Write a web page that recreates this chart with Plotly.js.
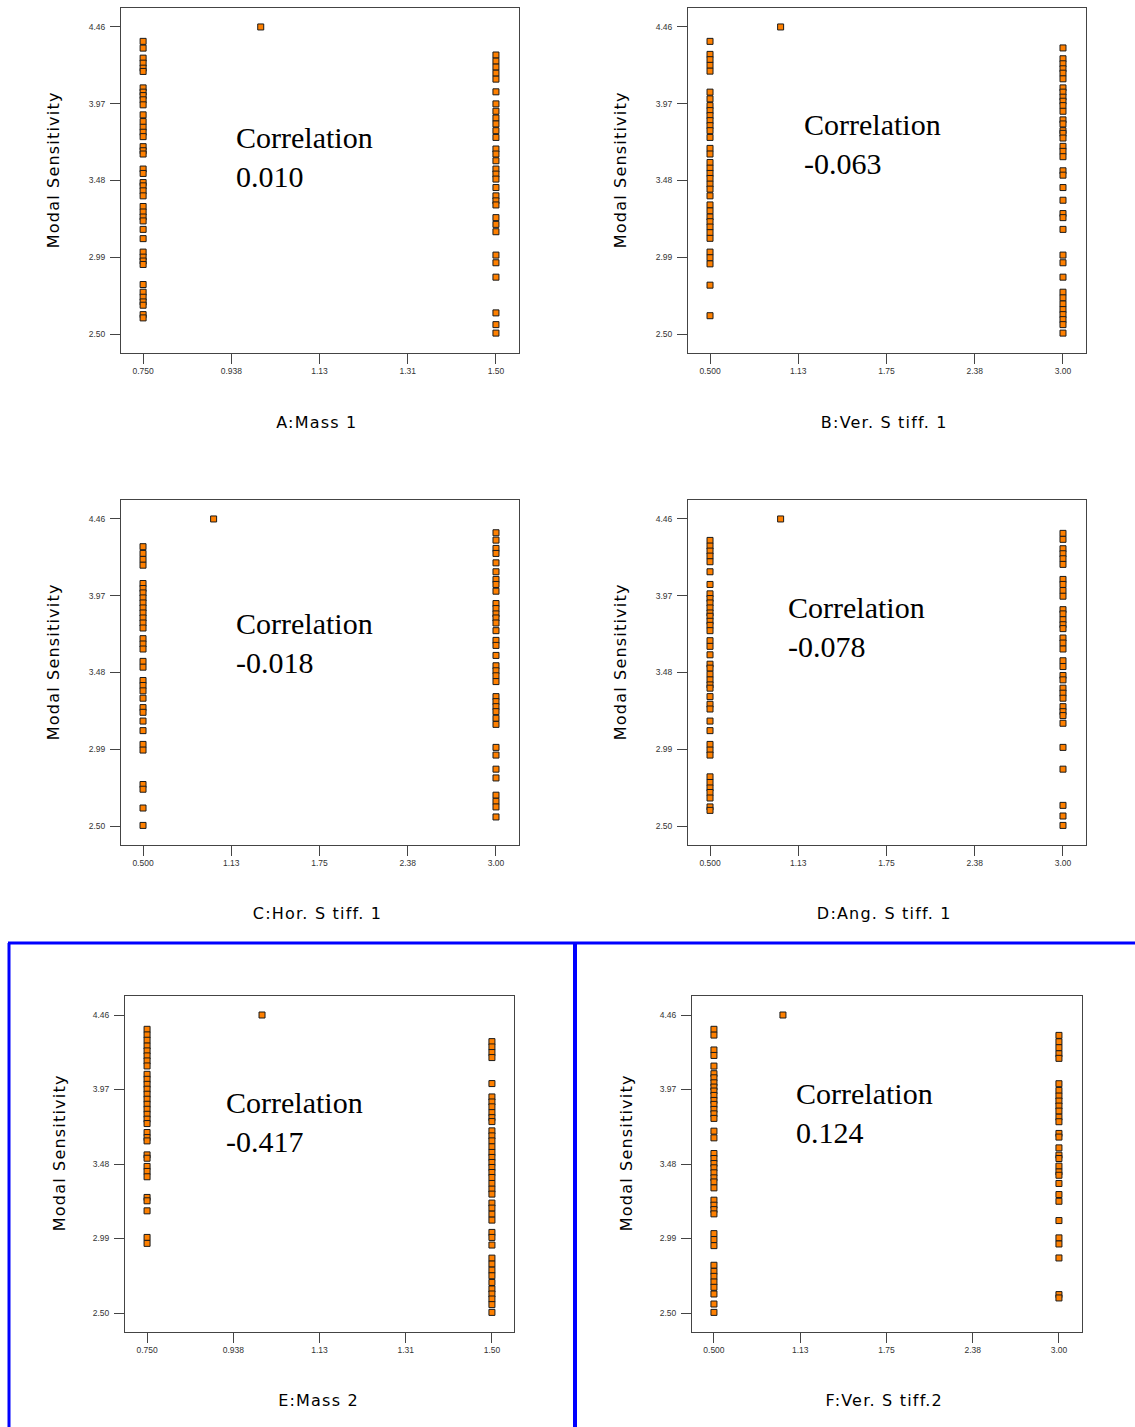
<!DOCTYPE html>
<html>
<head>
<meta charset="utf-8">
<script src="https://cdn.plot.ly/plotly-3.0.1.min.js"></script>
<style>html,body{margin:0;padding:0;background:#fff;}#chart{width:1135px;height:1427px;}</style>
</head>
<body>
<div id="chart"></div>
<script>
// ---- Data ----
var yTickVals = [2.50, 2.99, 3.48, 3.97, 4.46];
var yTickText = ["2.50", "2.99", "3.48", "3.97", "4.46"];

var massLevels = [0.750, 1.0, 1.50];
var massTickVals = [0.75, 0.9375, 1.125, 1.3125, 1.5];
var massTickText = ["0.750", "0.938", "1.13", "1.31", "1.50"];

var stiffLevels = [0.500, 1.0, 3.00];
var stiffTickVals = [0.5, 1.125, 1.75, 2.375, 3.0];
var stiffTickText = ["0.500", "1.13", "1.75", "2.38", "3.00"];

var centerY = [4.46];

// A: Mass 1
var A_low = [4.368,4.325,4.261,4.229,4.197,4.176,4.071,4.044,4.022,3.995,3.963,3.899,3.856,3.820,3.788,3.760,3.696,3.670,3.649,3.553,3.525,3.467,3.446,3.414,3.382,3.314,3.279,3.247,3.222,3.168,3.109,3.023,2.991,2.966,2.944,2.816,2.767,2.735,2.705,2.684,2.624,2.603];
var A_high = [4.281,4.242,4.204,4.165,4.127,4.046,3.969,3.922,3.879,3.841,3.798,3.755,3.681,3.649,3.606,3.553,3.521,3.489,3.435,3.382,3.350,3.324,3.243,3.200,3.153,3.004,2.955,2.863,2.635,2.560,2.506];
// B: Ver. Stiff. 1
var B_low = [4.368,4.285,4.251,4.215,4.178,4.044,4.001,3.958,3.926,3.894,3.862,3.830,3.798,3.755,3.685,3.649,3.595,3.559,3.525,3.493,3.457,3.425,3.382,3.324,3.286,3.247,3.217,3.183,3.147,3.111,3.023,2.987,2.948,2.812,2.617];
var B_high = [4.326,4.257,4.225,4.193,4.165,4.129,4.071,4.044,4.012,3.986,3.958,3.922,3.867,3.841,3.798,3.781,3.751,3.698,3.666,3.632,3.542,3.514,3.435,3.354,3.269,3.243,3.168,3.004,2.955,2.863,2.767,2.731,2.692,2.656,2.624,2.592,2.560,2.506];
// C: Hor. Stiff. 1
var C_low = [4.283,4.240,4.202,4.165,4.048,4.016,3.988,3.956,3.924,3.892,3.860,3.828,3.796,3.764,3.696,3.662,3.630,3.551,3.514,3.429,3.397,3.363,3.316,3.256,3.226,3.170,3.109,3.021,2.985,2.765,2.735,2.615,2.504];
var C_high = [4.372,4.325,4.272,4.240,4.180,4.123,4.074,4.042,3.999,3.920,3.888,3.854,3.828,3.796,3.747,3.685,3.653,3.589,3.523,3.491,3.459,3.422,3.326,3.294,3.262,3.230,3.188,3.149,3.002,2.953,2.863,2.807,2.697,2.658,2.622,2.558];
// D: Ang. Stiff. 1
var D_low = [4.323,4.287,4.255,4.223,4.187,4.123,4.042,3.982,3.952,3.924,3.892,3.860,3.839,3.807,3.781,3.747,3.683,3.647,3.593,3.533,3.508,3.469,3.433,3.401,3.380,3.326,3.277,3.247,3.170,3.109,3.021,2.985,2.953,2.814,2.778,2.743,2.714,2.679,2.622,2.600];
var D_high = [4.368,4.330,4.270,4.238,4.206,4.170,4.074,4.042,4.003,3.967,3.881,3.854,3.817,3.785,3.760,3.700,3.668,3.630,3.555,3.518,3.461,3.433,3.380,3.348,3.316,3.262,3.230,3.205,3.156,3.002,2.863,2.632,2.564,2.504];
// E: Mass 2
var E_low = [4.366,4.329,4.294,4.256,4.224,4.191,4.158,4.125,4.070,4.037,4.004,3.972,3.939,3.906,3.873,3.840,3.807,3.775,3.746,3.687,3.654,3.632,3.540,3.518,3.464,3.431,3.396,3.260,3.238,3.172,2.997,2.958];
var E_high = [4.285,4.250,4.213,4.180,4.009,3.921,3.888,3.856,3.818,3.785,3.759,3.698,3.665,3.632,3.593,3.556,3.523,3.490,3.457,3.424,3.391,3.352,3.315,3.282,3.223,3.190,3.150,3.111,3.030,2.997,2.947,2.861,2.822,2.782,2.745,2.701,2.658,2.625,2.592,2.555,2.504];
// F: Ver. Stiff. 2
var F_low = [4.366,4.328,4.230,4.194,4.124,4.074,4.047,4.014,3.986,3.960,3.931,3.898,3.872,3.839,3.810,3.780,3.696,3.652,3.549,3.516,3.483,3.455,3.422,3.389,3.362,3.323,3.242,3.209,3.180,3.152,3.022,2.983,2.943,2.814,2.774,2.741,2.704,2.669,2.625,2.559,2.504];
var F_high = [4.326,4.284,4.245,4.205,4.175,4.008,3.964,3.927,3.894,3.861,3.828,3.788,3.758,3.681,3.657,3.586,3.538,3.516,3.466,3.428,3.406,3.352,3.279,3.235,3.108,2.994,2.954,2.862,2.621,2.599];

var factorNames = ["A:Mass 1", "B:Ver. S tiff. 1", "C:Hor. S tiff. 1", "D:Ang. S tiff. 1", "E:Mass 2", "F:Ver. S tiff.2"];
var correlations = ["0.010", "-0.063", "-0.018", "-0.078", "-0.417", "0.124"];
var yTitle = "Modal Sensitivity";

// ---- Build ----
var W = 1135, H = 1427;
var panels = [
  {low: A_low, high: A_high, levels: massLevels, tv: massTickVals, tt: massTickText, box: [121, 519, 8, 353], xr: [0.703, 1.549], yr: [2.379, 4.581], corr: [234, 157], yt: [53, 170], xt: [317, 422]},
  {low: B_low, high: B_high, levels: stiffLevels, tv: stiffTickVals, tt: stiffTickText, box: [688, 1086, 8, 353], xr: [0.344, 3.163], yr: [2.379, 4.581], corr: [802, 144], yt: [620, 170], xt: [884, 422]},
  {low: C_low, high: C_high, levels: stiffLevels, tv: stiffTickVals, tt: stiffTickText, box: [121, 519, 500, 845], xr: [0.344, 3.163], yr: [2.379, 4.581], corr: [234, 643], yt: [53, 662], xt: [317, 913]},
  {low: D_low, high: D_high, levels: stiffLevels, tv: stiffTickVals, tt: stiffTickText, box: [688, 1086, 500, 845], xr: [0.344, 3.163], yr: [2.379, 4.581], corr: [786, 627], yt: [620, 662], xt: [884, 913]},
  {low: E_low, high: E_high, levels: massLevels, tv: massTickVals, tt: massTickText, box: [125, 514, 996, 1332], xr: [0.702, 1.548], yr: [2.375, 4.585], corr: [224, 1122], yt: [59, 1153], xt: [318, 1400]},
  {low: F_low, high: F_high, levels: stiffLevels, tv: stiffTickVals, tt: stiffTickText, box: [692, 1082, 996, 1332], xr: [0.341, 3.167], yr: [2.375, 4.585], corr: [794, 1113], yt: [626, 1153], xt: [884, 1400]}
];

var traces = [];
var layout = {
  width: W, height: H,
  margin: {l: 0, r: 0, t: 0, b: 0},
  paper_bgcolor: "#ffffff", plot_bgcolor: "#ffffff",
  showlegend: false,
  annotations: [],
  shapes: []
};

panels.forEach(function (p, i) {
  var n = i + 1;
  var xs = [], ys = [];
  p.low.forEach(function (v) { xs.push(p.levels[0]); ys.push(v); });
  centerY.forEach(function (v) { xs.push(p.levels[1]); ys.push(v); });
  p.high.forEach(function (v) { xs.push(p.levels[2]); ys.push(v); });
  traces.push({
    type: "scatter", mode: "markers",
    x: xs, y: ys,
    xaxis: "x" + (n === 1 ? "" : n), yaxis: "y" + (n === 1 ? "" : n),
    marker: {symbol: "square", size: 6, color: "#ff8000", line: {color: "#1a1a1a", width: 1}},
    hoverinfo: "x+y"
  });
  var xk = "xaxis" + (n === 1 ? "" : n), yk = "yaxis" + (n === 1 ? "" : n);
  var axisCommon = {
    showline: true, mirror: true, linecolor: "#444", linewidth: 1,
    showgrid: false, zeroline: false,
    ticks: "outside", ticklen: 10, tickcolor: "#444", tickwidth: 1,
    tickfont: {family: "Liberation Sans, Arial, sans-serif", size: 8.5, color: "#333"},
    tickmode: "array", fixedrange: true
  };
  layout[xk] = Object.assign({}, axisCommon, {
    domain: [p.box[0] / W, p.box[1] / W],
    range: p.xr, tickvals: p.tv, ticktext: p.tt,
    anchor: "y" + (n === 1 ? "" : n)
  });
  layout[yk] = Object.assign({}, axisCommon, {
    domain: [1 - p.box[3] / H, 1 - p.box[2] / H],
    range: p.yr, tickvals: yTickVals, ticktext: yTickText,
    ticklabelstandoff: 3,
    anchor: "x" + (n === 1 ? "" : n)
  });
  layout.annotations.push({
    xref: "paper", yref: "paper", x: p.corr[0] / W, y: 1 - p.corr[1] / H,
    xanchor: "left", yanchor: "middle", align: "left", showarrow: false,
    text: "Correlation<br>" + correlations[i],
    font: {family: "Liberation Serif, Times New Roman, serif", size: 30, color: "#000"}
  });
  layout.annotations.push({
    xref: "paper", yref: "paper", x: p.yt[0] / W, y: 1 - p.yt[1] / H,
    xanchor: "center", yanchor: "middle", showarrow: false, textangle: -90,
    text: yTitle,
    font: {family: "DejaVu Sans, Verdana, sans-serif", size: 16, color: "#000"}
  });
  layout.annotations.push({
    xref: "paper", yref: "paper", x: p.xt[0] / W, y: 1 - p.xt[1] / H,
    xanchor: "center", yanchor: "middle", showarrow: false,
    text: factorNames[i],
    font: {family: "DejaVu Sans, Verdana, sans-serif", size: 16, color: "#000"}
  });
});

// blue frame lines around the bottom row
var blue = "#0000ff";
layout.shapes.push({type: "line", xref: "paper", yref: "paper", x0: 8 / W, x1: 1, y0: 1 - 943 / H, y1: 1 - 943 / H, line: {color: blue, width: 3}});
layout.shapes.push({type: "line", xref: "paper", yref: "paper", x0: 9 / W, x1: 9 / W, y0: 1 - 943 / H, y1: 0, line: {color: blue, width: 3}});
layout.shapes.push({type: "line", xref: "paper", yref: "paper", x0: 575 / W, x1: 575 / W, y0: 1 - 943 / H, y1: 0, line: {color: blue, width: 4}});

Plotly.newPlot("chart", traces, layout, {displayModeBar: false, staticPlot: true}).then(function (gd) {
  // widen the letter spacing of the axis-title annotations (centred text stays centred)
  var groups = gd.querySelectorAll(".annotation");
  groups.forEach(function (g) {
    var idx = parseInt(g.getAttribute("data-index"), 10);
    if (idx % 3 !== 0) {
      g.querySelectorAll("text").forEach(function (t) { t.style.letterSpacing = "1.2px"; });
    }
  });
});
</script>
</body>
</html>
